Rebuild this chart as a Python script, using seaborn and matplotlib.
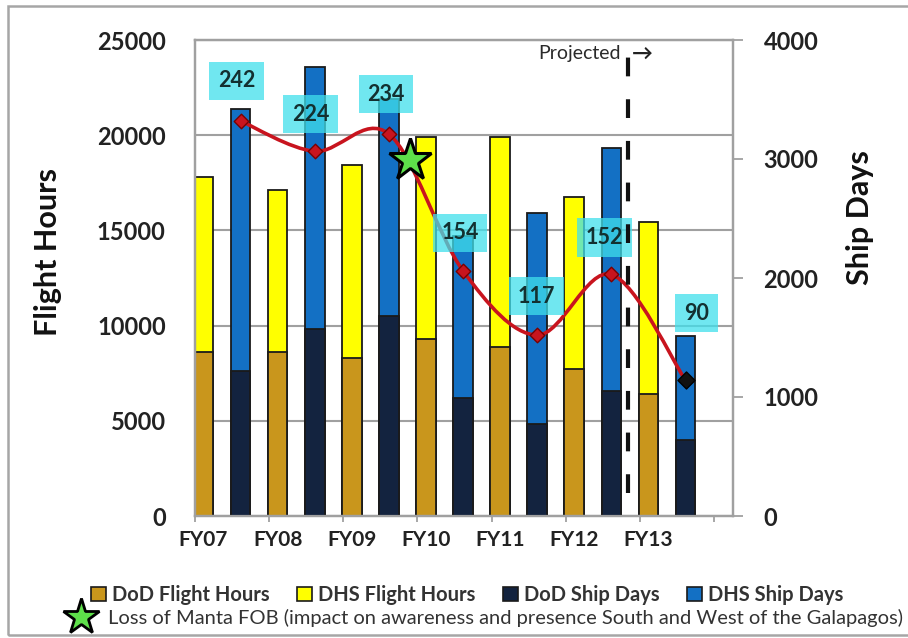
import numpy as np
import pandas as pd
import matplotlib
matplotlib.use("Agg")
import matplotlib.pyplot as plt
import seaborn as sns
from matplotlib.path import Path
from matplotlib.patches import PathPatch, Patch, Rectangle
from matplotlib.lines import Line2D

# ---------------- data ----------------
years = ["FY07", "FY08", "FY09", "FY10", "FY11", "FY12", "FY13"]
dod_flight_hours = [8600, 8600, 8300, 9300, 8850, 7700, 6400]
dhs_flight_hours = [9200, 8500, 10150, 10600, 11050, 9050, 9050]
dod_ship_days = [1220, 1570, 1680, 990, 770, 1050, 640]
dhs_ship_days = [2200, 2205, 1820, 1360, 1775, 2045, 870]
trend_ship_days = [3320, 3065, 3210, 2060, 1520, 2030, 1140]
trend_labels = ["242", "224", "234", "154", "117", "152", "90"]
event_position = 5.57      # slot position of the loss of Manta FOB
event_ship_days = 2990
projected_position = 11.45
legend_labels = ["DoD Flight Hours", "DHS Flight Hours", "DoD Ship Days", "DHS Ship Days"]
event_label = "Loss of Manta FOB (impact on awareness and presence South and West of the Galapagos)"

# ---------------- style ----------------
GOLD = "#C9961C"
YELLOW = "#FFFF00"
NAVY = "#13233F"
BLUE = "#1370C4"
EDGE = "#1a1a1a"
RED = "#C8141E"
GRAY = "#a0a0a0"
GREEN = "#5EE04A"
CYAN = "#40E0EC"
label_dx = [-4, -4, -3, -3, -1, -7, 11]     # pixel offsets of value boxes
label_dy = [40, 37, 40, 38, 39, 37, 67]

plt.rcParams["font.family"] = ["Lato", "DejaVu Sans"]

W, H = 908, 638
fig = plt.figure(figsize=(W / 100, H / 100), dpi=100)
L, R, T, B = 195, 733, 40, 516
ax = fig.add_axes([L / W, 1 - B / H, (R - L) / W, (B - T) / H])

fh_slots = [y + " FH" for y in years]
sd_slots = [y + " SD" for y in years]
order = [s for pair in zip(fh_slots, sd_slots) for s in pair]

df_fh = pd.DataFrame({
    "slot": fh_slots,
    "dod": dod_flight_hours,
    "total": np.add(dod_flight_hours, dhs_flight_hours),
})
df_sd = pd.DataFrame({
    "slot": sd_slots,
    "dod": dod_ship_days,
    "total": np.add(dod_ship_days, dhs_ship_days),
})

bw = 0.53
common = dict(x="slot", order=order, width=bw, edgecolor=EDGE, linewidth=1.3,
              saturation=1, errorbar=None)
sns.barplot(data=df_fh, y="total", color=YELLOW, ax=ax, **common)
sns.barplot(data=df_fh, y="dod", color=GOLD, ax=ax, **common)

ax2 = ax.twinx()
sns.barplot(data=df_sd, y="total", color=BLUE, ax=ax2, **common)
sns.barplot(data=df_sd, y="dod", color=NAVY, ax=ax2, **common)

# ---------------- axes ----------------
ax.set_ylim(0, 25000)
ax2.set_ylim(0, 4000)
ax.set_yticks(range(0, 25001, 5000))
ax2.set_yticks(range(0, 4001, 1000))
ax.grid(axis="y", color=GRAY, lw=1.5)
ax.grid(axis="x", visible=False)
ax.set_axisbelow(True)

xmin, xmax = -0.229, 14.28
ax.set_xlim(xmin, xmax)
ax.set_xticks([2 * i for i in range(len(years))], labels=years)
ax.set_xticks([xmin + 2 * k for k in range(8)], minor=True)
ax.tick_params(axis="x", which="major", length=0, pad=10, labelsize=15)
ax.tick_params(axis="x", which="minor", length=4, width=1.3, color=GRAY)
for lab in ax.get_xticklabels():
    lab.set_fontweight("bold")
    lab.set_color("#222222")

ax.tick_params(axis="y", length=0, pad=21, labelsize=17)
for lab in ax.get_yticklabels():
    lab.set_fontweight("bold")
    lab.set_color("#222222")
ax2.tick_params(axis="y", length=7, width=1.3, color=GRAY, pad=15, labelsize=17)
for lab in ax2.get_yticklabels():
    lab.set_fontweight("bold")
    lab.set_color("#222222")

for a in (ax, ax2):
    for sp in a.spines.values():
        sp.set_color(GRAY)
        sp.set_linewidth(1.6)

ax.set_xlabel("")
ax.set_ylabel("Flight Hours", fontsize=22, fontweight="bold", color="#111111")
ax2.set_ylabel("Ship Days", fontsize=22, fontweight="bold", color="#111111", rotation=90)
ax.yaxis.set_label_coords(-0.247, 0.555)
ax2.yaxis.set_label_coords(1.21, 0.626)

# ---------------- smoothed trend line ----------------
xs = np.arange(len(years)) * 2 + 1.0
ys = np.array(trend_ship_days, dtype=float)
P = np.column_stack([xs, ys])
verts = [P[0]]
codes = [Path.MOVETO]
for i in range(len(P) - 1):
    p0 = P[i - 1] if i > 0 else P[i]
    p1, p2 = P[i], P[i + 1]
    p3 = P[i + 2] if i + 2 < len(P) else P[i + 1]
    verts += [p1 + (p2 - p0) / 6, p2 - (p3 - p1) / 6, p2]
    codes += [Path.CURVE4] * 3
ax2.add_patch(PathPatch(Path(verts, codes), fill=False, ec=RED, lw=2.6, zorder=4))
ax2.scatter(xs[:-1], ys[:-1], marker="D", s=55, c=RED, edgecolors="#7a0000",
            linewidths=1, zorder=5)
ax2.scatter(xs[-1:], ys[-1:], marker="D", s=75, c="#111111", edgecolors="#000000",
            linewidths=1, zorder=5)

for x, y, t, dx, dy in zip(xs, ys, trend_labels, label_dx, label_dy):
    ax2.annotate(t, (x, y), xytext=(dx, dy), textcoords="offset pixels",
                 ha="center", va="center", fontsize=15.5, fontweight="bold",
                 color="#133030", zorder=6,
                 bbox=dict(boxstyle="square,pad=0.4", fc=CYAN, ec="none", alpha=0.75))

# event star
ax2.plot([event_position], [event_ship_days], marker="*", ms=32, mfc=GREEN,
         mec="black", mew=2.2, ls="none", zorder=7)

# projected divider
ax2.axvline(projected_position, ymin=0.048, ymax=1.0, color="#111111", lw=3,
            dashes=(4.5, 5.5), zorder=8)
ax2.text(projected_position - 0.2, 3885, "Projected", ha="right", va="center",
         fontsize=14, color="#2a2a2a", zorder=8)
ax2.text(projected_position + 0.1, 3885, "→", ha="left", va="center",
         fontsize=15, fontweight="bold", color="#222222", zorder=8)

# ---------------- legends ----------------
handles = [Patch(fc=c, ec=EDGE, lw=1.2) for c in (GOLD, YELLOW, NAVY, BLUE)]
leg1 = fig.legend(handles, legend_labels, loc="center", ncol=4,
                  bbox_to_anchor=(467 / W, 1 - 595 / H), frameon=False,
                  prop=dict(size=14.5, weight="bold"), handlelength=0.75,
                  handleheight=0.75, handletextpad=0.3, columnspacing=1.35,
                  borderpad=0, borderaxespad=0)
for t in leg1.get_texts():
    t.set_color("#333333")

star = Line2D([], [], marker="*", ls="none", ms=27, mfc=GREEN, mec="black", mew=2)
leg2 = fig.legend([star], [event_label], loc="center left",
                  bbox_to_anchor=(69 / W, 1 - 618 / H), frameon=False,
                  prop=dict(size=14.5), handlelength=1.2, handletextpad=0.75,
                  borderpad=0, borderaxespad=0)
for t in leg2.get_texts():
    t.set_color("#333333")

fig.patches.append(Rectangle((8 / W, 1 - 635 / H), 1.2, (635 - 6) / H,
                             transform=fig.transFigure, fill=False,
                             ec="#a6a6a6", lw=1.8))

fig.savefig("out.png", dpi=100)
